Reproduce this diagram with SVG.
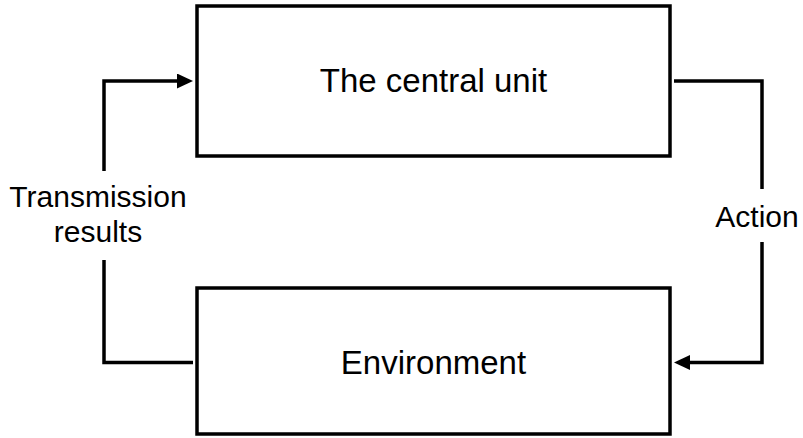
<svg xmlns="http://www.w3.org/2000/svg" width="803" height="438" viewBox="0 0 803 438">
<style>
.box{fill:#fff;stroke:#000;stroke-width:3.5}
.conn{fill:none;stroke:#000;stroke-width:3.5}
.lbl{font-family:"Liberation Sans",Arial,sans-serif;font-size:33px;fill:#000;text-anchor:middle}
.small{font-family:"Liberation Sans",Arial,sans-serif;font-size:30px;fill:#000;text-anchor:middle}
</style>
<defs>
<marker id="arr" markerUnits="userSpaceOnUse" markerWidth="16" markerHeight="15" refX="8" refY="7.5" orient="auto">
<path d="M0,0 L16,7.5 L0,15 z" fill="#000"/>
</marker>
</defs>
<g id="central">
<rect class="box" x="197" y="6" width="473" height="150"/>
<text class="lbl" x="433.5" y="92">The central unit</text>
</g>
<g id="environment">
<rect class="box" x="197" y="288" width="473" height="146"/>
<text class="lbl" x="433.5" y="374">Environment</text>
</g>
<g id="connectors">
<path class="conn" d="M104,171 V81 H185" marker-end="url(#arr)"/>
<path class="conn" d="M193,362.5 H104 V260"/>
<path class="conn" d="M674,81 H762 V189"/>
<path class="conn" d="M762,242 V362.5 H682" marker-end="url(#arr)"/>
<text class="small" x="98" y="207">Transmission</text>
<text class="small" x="98" y="242">results</text>
<text class="small" x="757" y="227">Action</text>
</g>
</svg>
